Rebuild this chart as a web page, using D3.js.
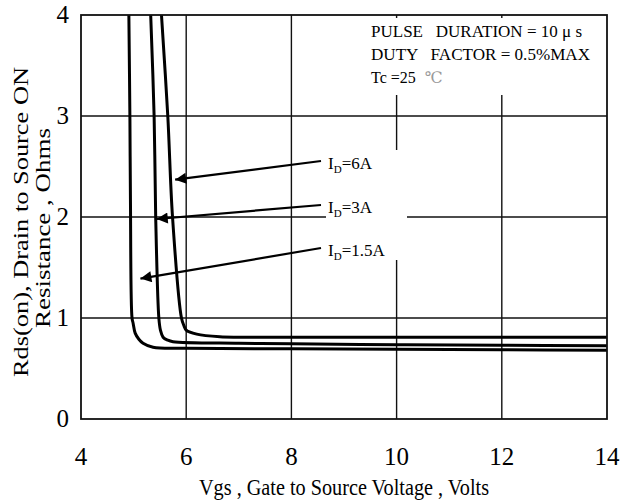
<!DOCTYPE html>
<html>
<head>
<meta charset="utf-8">
<script src="https://cdn.jsdelivr.net/npm/d3@7"></script>
<style>
  body { margin: 0; background: #fff; }
  svg { display: block; font-family: "Liberation Serif", "DejaVu Serif", serif; }
</style>
</head>
<body>
<svg id="chart" width="630" height="504"></svg>
<script>
// data (Vgs in volts, Rds(on) in ohms)
const vgs15 = [4.91, 4.93, 4.94, 4.97, 4.99, 5.03, 5.10, 5.18, 5.37, 6, 8, 10, 12, 14]
const rds15 = [4.0, 2.97, 2.17, 1.0, 0.95, 0.85, 0.79, 0.75, 0.71, 0.70, 0.695, 0.69, 0.685, 0.68]

const vgs3 = [5.325, 5.39, 5.42, 5.48, 5.51, 5.56, 5.65, 5.75, 7, 8, 10, 12, 14]
const rds3 = [4.0, 3.0, 2.0, 1.0, 0.88, 0.81, 0.78, 0.765, 0.75, 0.745, 0.735, 0.73, 0.725]

const vgs6 = [5.53, 5.65, 5.74, 5.91, 5.96, 6.0, 6.2, 6.64, 8, 10, 12, 14]
const rds6 = [4.0, 3.0, 2.0, 1.0, 0.92, 0.88, 0.84, 0.815, 0.81, 0.81, 0.81, 0.81]

const xTicks = [4, 6, 8, 10, 12, 14]
const yTicks = [0, 1, 2, 3, 4]

// label text + where its arrow points
const curveLabels = [
  {name: "6A", at: [5.79, 2.37], ly: 163},
  {name: "3A", at: [5.44, 1.98], ly: 207},
  {name: "1.5A", at: [5.13, 1.39], ly: 250}
]

const notes = ["PULSE   DURATION = 10 \u03bc s", "DUTY   FACTOR = 0.5%MAX"]

const svg = d3.select("#chart")
const mLeft = 81, mRight = 607, mTop = 15, mBottom = 419

const x = d3.scaleLinear().domain([4, 14]).range([mLeft, mRight])
const y = d3.scaleLinear().domain([0, 4]).range([mBottom, mTop])

const defs = svg.append("defs")
defs.append("clipPath").attr("id", "plotClip")
  .append("rect")
  .attr("x", mLeft).attr("y", mTop)
  .attr("width", mRight - mLeft).attr("height", mBottom - mTop)

// grid
svg.append("g")
  .selectAll("line")
  .data(xTicks.slice(1, -1))
  .enter().append("line")
  .attr("x1", d => x(d)).attr("x2", d => x(d))
  .attr("y1", mTop).attr("y2", mBottom)
  .attr("stroke", "#111").attr("stroke-width", 1.4)

svg.append("g")
  .selectAll("line")
  .data(yTicks.slice(1, -1))
  .enter().append("line")
  .attr("x1", mLeft).attr("x2", mRight)
  .attr("y1", d => y(d)).attr("y2", d => y(d))
  .attr("stroke", "#111").attr("stroke-width", 1.4)

// white patches behind the notes and the labels, as in the scan
svg.append("rect")
  .attr("x", 362).attr("y", 18).attr("width", 240).attr("height", 77)
  .attr("fill", "#fff")
svg.append("rect")
  .attr("x", 326).attr("y", 150).attr("width", 81).attr("height", 110)
  .attr("fill", "#fff")

// curves
const line = d3.line()
  .x(d => x(d[0]))
  .y(d => y(d[1]))
  .curve(d3.curveCatmullRom.alpha(0.5))

const series = [
  d3.zip(vgs15, rds15),
  d3.zip(vgs3, rds3),
  d3.zip(vgs6, rds6)
]

svg.append("g")
  .attr("clip-path", "url(#plotClip)")
  .selectAll("path")
  .data(series)
  .enter().append("path")
  .attr("d", line)
  .attr("fill", "none")
  .attr("stroke", "#000")
  .attr("stroke-width", 3)

// frame
svg.append("rect")
  .attr("x", mLeft).attr("y", mTop)
  .attr("width", mRight - mLeft).attr("height", mBottom - mTop)
  .attr("fill", "none")
  .attr("stroke", "#111").attr("stroke-width", 1.8)

// tick labels
svg.append("g")
  .selectAll("text")
  .data(xTicks)
  .enter().append("text")
  .attr("x", d => x(d))
  .attr("y", 465)
  .attr("text-anchor", "middle")
  .style("font-size", "25px")
  .text(d => d)

svg.append("g")
  .selectAll("text")
  .data(yTicks)
  .enter().append("text")
  .attr("x", 69)
  .attr("y", d => y(d) + 8)
  .attr("text-anchor", "end")
  .style("font-size", "25px")
  .text(d => d)

// axis titles
svg.append("text")
  .attr("x", 344).attr("y", 495)
  .attr("text-anchor", "middle")
  .attr("textLength", 290).attr("lengthAdjust", "spacingAndGlyphs")
  .style("font-size", "24px")
  .text("Vgs , Gate to Source Voltage , Volts")

svg.append("text")
  .attr("transform", "translate(28,222) rotate(-90)")
  .attr("text-anchor", "middle")
  .attr("textLength", 310).attr("lengthAdjust", "spacingAndGlyphs")
  .style("font-size", "21px")
  .text("Rds(on), Drain to Source ON")

svg.append("text")
  .attr("transform", "translate(50,228) rotate(-90)")
  .attr("text-anchor", "middle")
  .attr("textLength", 200).attr("lengthAdjust", "spacingAndGlyphs")
  .style("font-size", "21px")
  .text("Resistance , Ohms")

// test conditions
svg.append("g")
  .selectAll("text")
  .data(notes)
  .enter().append("text")
  .attr("x", 371)
  .attr("y", (d, i) => 37 + i * 23)
  .attr("textLength", (d, i) => i == 0 ? 211 : 219)
  .attr("lengthAdjust", "spacingAndGlyphs")
  .style("font-size", "16px")
  .style("white-space", "pre")
  .text(d => d)

const tc = svg.append("text")
  .attr("x", 371).attr("y", 83)
  .style("font-size", "16px")
tc.append("tspan").text("Tc =25")
tc.append("tspan").attr("dx", 9).attr("fill", "#999").text("\u2103")

// curve labels with arrows
defs.append("marker")
  .attr("id", "head")
  .attr("viewBox", "0 0 10 10")
  .attr("refX", 10).attr("refY", 5)
  .attr("markerWidth", 7).attr("markerHeight", 5)
  .attr("markerUnits", "strokeWidth")
  .attr("orient", "auto")
  .append("path")
  .attr("d", "M0,0 L10,5 L0,10 Z")
  .attr("fill", "#000")

const lab = svg.append("g").selectAll("g")
  .data(curveLabels)
  .enter().append("g")

lab.append("line")
  .attr("x1", 321).attr("y1", d => d.ly - 2)
  .attr("x2", d => x(d.at[0])).attr("y2", d => y(d.at[1]))
  .attr("stroke", "#000").attr("stroke-width", 2.2)
  .attr("marker-end", "url(#head)")

const labText = lab.append("text")
  .attr("x", 328).attr("y", d => d.ly + 6)
  .style("font-size", "17px")
labText.append("tspan").text("I")
labText.append("tspan").attr("dy", 4).style("font-size", "11px").text("D")
labText.append("tspan").attr("dy", -4).text(d => "=" + d.name)
</script>
</body>
</html>
